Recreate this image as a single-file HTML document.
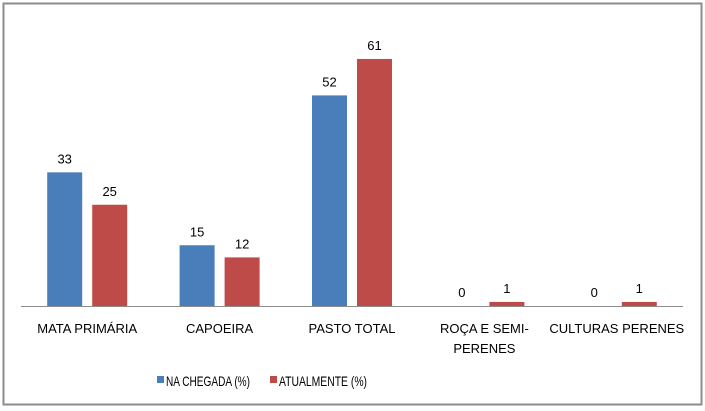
<!DOCTYPE html>
<html><head><meta charset="utf-8"><style>
html,body{margin:0;padding:0;background:#fff;}
svg{display:block;font-family:"Liberation Sans",sans-serif;}
</style></head><body>
<svg width="705" height="411">
<rect x="3.5" y="3.5" width="698" height="401" fill="#fff" stroke="#8c8c8c" stroke-width="2"/>
<g id="plot"></g>
<g>
<rect x="157" y="376" width="7" height="7" fill="#4a7ebb"/>
<text x="166" y="386" font-size="14" textLength="84" lengthAdjust="spacingAndGlyphs" fill="#000">NA CHEGADA (%)</text>
<rect x="270" y="376" width="7" height="7" fill="#be4b48"/>
<text x="279" y="386" font-size="14" textLength="88" lengthAdjust="spacingAndGlyphs" fill="#000">ATUALMENTE (%)</text>
</g>
</svg>
<script>
const categories = [["MATA PRIMÁRIA"],["CAPOEIRA"],["PASTO TOTAL"],["ROÇA E SEMI-","PERENES"],["CULTURAS PERENES"]];
const naChegada = [33, 15, 52, 0, 0];
const atualmente = [25, 12, 61, 1, 1];
const NS = "http://www.w3.org/2000/svg";
const g = document.getElementById("plot");
const baseY = 306, pxPer = 4.05, x0 = 21, step = 132.4;
function yScale(v){ return baseY - v*pxPer; }
function xCenter(i){ return x0 + step*(i+0.5); }
function mk(tag, attrs){ const e=document.createElementNS(NS,tag); for(const k in attrs) e.setAttribute(k,attrs[k]); g.appendChild(e); return e; }
const series = [[naChegada,"#4a7ebb",-40,"blue"],[atualmente,"#be4b48",5,"red"]];
categories.forEach((c,i)=>{
  series.forEach(([arr,col,off,nm])=>{
    const v = arr[i];
    const r = mk("rect",{x:xCenter(i)+off,y:yScale(v),width:35,height:baseY-yScale(v),fill:col});
    
    
    const t = mk("text",{x:xCenter(i)+off+17.5,y:yScale(v)-9,"font-size":13,"text-anchor":"middle",fill:"#000"});
    t.textContent = v;
    
    
  });
  c.forEach((line,j)=>{
    const t = mk("text",{x:xCenter(i),y:333+j*20,"font-size":13,"text-anchor":"middle",fill:"#000"});
    t.textContent = line;
    
    
  });
});
const ax = mk("line",{x1:x0,x2:x0+step*5,y1:baseY+0.5,y2:baseY+0.5,stroke:"#8c8c8c","stroke-width":1});


</script>
</body></html>
